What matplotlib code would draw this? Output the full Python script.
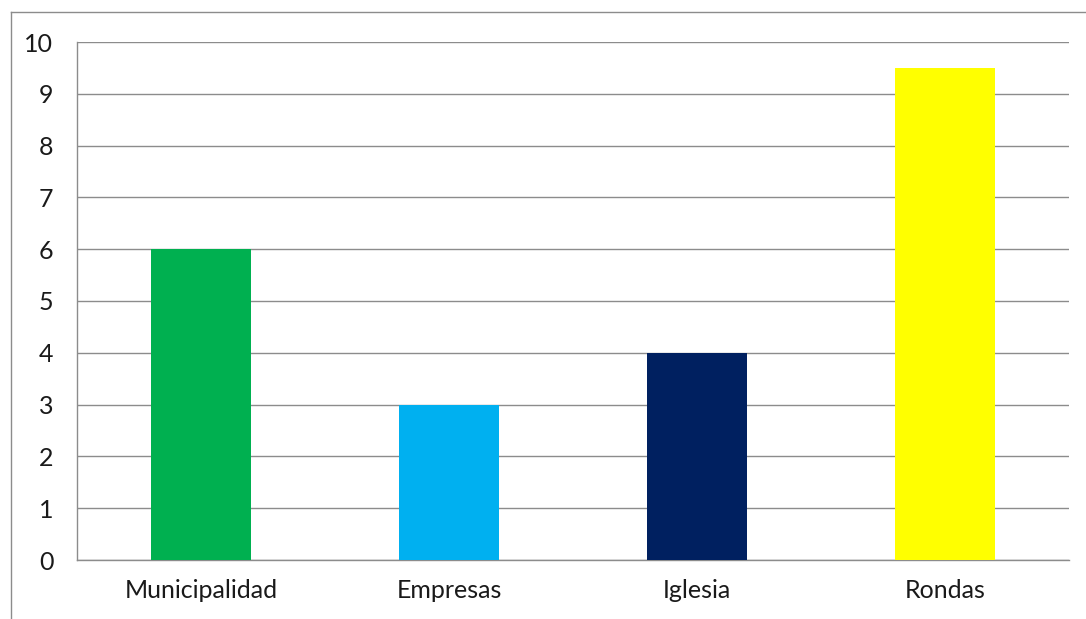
import matplotlib
matplotlib.use('Agg')
import matplotlib.pyplot as plt
from matplotlib.lines import Line2D

# ------------------------------------------------------------------
# Data
# ------------------------------------------------------------------
categories = ['Municipalidad', 'Empresas', 'Iglesia', 'Rondas']
values = [6, 3, 4, 9.5]
colors = ['#00B050', '#00B0F0', '#002060', '#FFFF00']
yticks = list(range(0, 11))

plt.rcParams['font.family'] = ['Lato', 'DejaVu Sans']

W, H = 1086, 619
fig = plt.figure(figsize=(W / 100, H / 100), dpi=100)
ax = fig.add_axes([77 / W, (H - 560) / H, (1069 - 77) / W, (560 - 42) / H])

x = range(len(categories))
ax.bar(x, values, width=0.403, color=colors, zorder=3)

ax.set_xlim(-0.5, len(categories) - 0.5)
ax.set_ylim(0, 10)
ax.set_yticks(yticks)
ax.set_xticks(list(x))
ax.set_xticklabels(categories)

ax.grid(axis='y', color='#8c8c8c', linewidth=1.0, zorder=0)
for side in ['top', 'right']:
    ax.spines[side].set_visible(False)
for side in ['left', 'bottom']:
    ax.spines[side].set_color('#8c8c8c')
    ax.spines[side].set_linewidth(1.0)

ax.tick_params(axis='y', length=0, pad=17, labelsize=18, colors='#1a1a1a')
ax.tick_params(axis='x', length=0, pad=14, labelsize=18, colors='#1a1a1a')

# outer chart frame (left and top edges visible)
fig.add_artist(Line2D([10.5 / W, 10.5 / W], [0, (H - 12) / H], color='#8c8c8c', lw=1.0))
fig.add_artist(Line2D([10.5 / W, 1], [(H - 12) / H, (H - 12) / H], color='#8c8c8c', lw=1.0))

fig.savefig('out.png', dpi=100)
